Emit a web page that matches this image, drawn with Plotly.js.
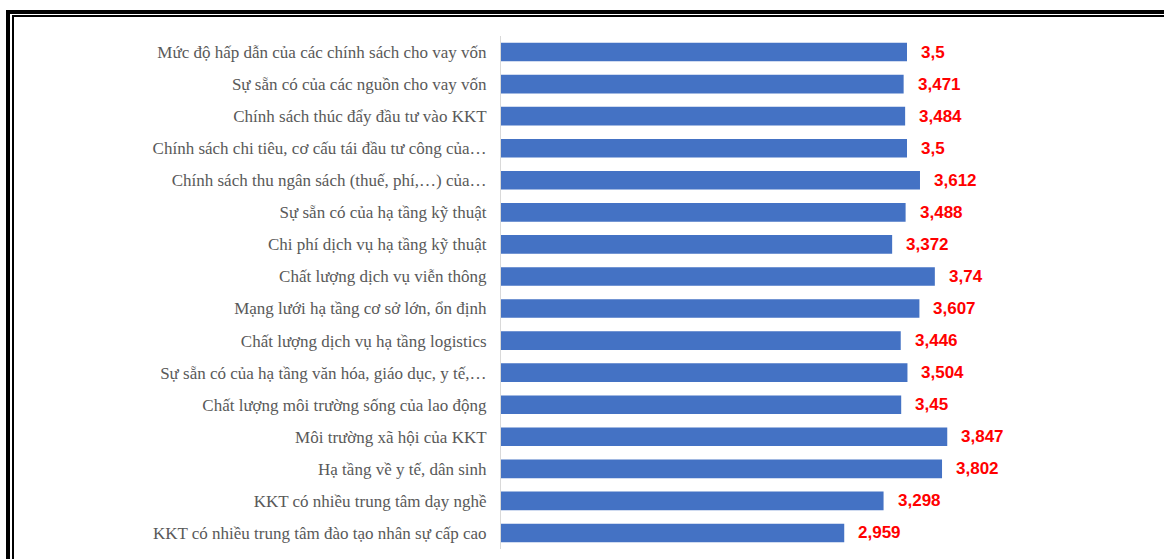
<!DOCTYPE html>
<html><head><meta charset="utf-8">
<script src="https://cdn.plot.ly/plotly-3.0.1.min.js"></script>
<style>
html,body{margin:0;padding:0;background:#fff;}
#wrap{position:relative;width:1164px;height:559px;overflow:hidden;}
#chart{position:absolute;left:0;top:0;width:1164px;height:559px;}
.fr{position:absolute;background:#000;pointer-events:none;}
</style></head>
<body>
<div id="wrap">
<div id="chart"></div>
<div class="fr" style="left:6px;top:10px;width:1158px;height:4px;"></div>
<div class="fr" style="left:6px;top:10px;width:4px;height:549px;"></div>
<div class="fr" style="left:12px;top:15px;width:1152px;height:2px;"></div>
<div class="fr" style="left:12px;top:15px;width:2px;height:544px;"></div>
</div>
<script>
const categories = [
  "Mức độ hấp dẫn của các chính sách cho vay vốn",
  "Sự sẵn có của các nguồn cho vay vốn",
  "Chính sách thúc đẩy đầu tư vào KKT",
  "Chính sách chi tiêu, cơ cấu tái đầu tư công của…",
  "Chính sách thu ngân sách (thuế, phí,…) của…",
  "Sự sẵn có của hạ tầng kỹ thuật",
  "Chi phí dịch vụ hạ tầng kỹ thuật",
  "Chất lượng dịch vụ viễn thông",
  "Mạng lưới hạ tầng cơ sở lớn, ổn định",
  "Chất lượng dịch vụ hạ tầng logistics",
  "Sự sẵn có của hạ tầng văn hóa, giáo dục, y tế,…",
  "Chất lượng môi trường sống của lao động",
  "Môi trường xã hội của KKT",
  "Hạ tầng về y tế, dân sinh",
  "KKT có nhiều trung tâm dạy nghề",
  "KKT có nhiều trung tâm đào tạo nhân sự cấp cao"
];
const values = [3.5, 3.471, 3.484, 3.5, 3.612, 3.488, 3.372, 3.74, 3.607, 3.446, 3.504, 3.45, 3.847, 3.802, 3.298, 2.959];
const valueLabels = values.map(v => String(v).replace('.', ','));

const trace = {
  type: 'bar',
  orientation: 'h',
  x: values,
  y: categories,
  marker: {color: '#4472C4'},
  width: 0.58,
  hoverinfo: 'none'
};

const annotations = values.map((v, i) => ({
  x: v, y: categories[i], xref: 'x', yref: 'y',
  text: valueLabels[i], showarrow: false,
  xanchor: 'left', yanchor: 'middle', xshift: 12,
  font: {family: 'Liberation Sans, Arial, sans-serif', size: 17, color: '#FF0000', weight: 'bold'}
}));

const layout = {
  width: 1164, height: 559,
  margin: {l: 501, r: 83, t: 36, b: 10, pad: 0},
  paper_bgcolor: '#ffffff', plot_bgcolor: '#ffffff',
  showlegend: false,
  xaxis: {range: [0, 5], visible: false, fixedrange: true},
  yaxis: {
    autorange: 'reversed', type: 'category',
    showline: true, linecolor: '#d9d9d9', linewidth: 1,
    showgrid: false, zeroline: false,
    ticks: 'outside', ticklen: 10, tickcolor: 'rgba(0,0,0,0)',
    tickfont: {family: 'Liberation Serif, Times New Roman, serif', size: 17, color: '#595959'}
  },
  annotations: annotations
};

Plotly.newPlot('chart', [trace], layout, {displayModeBar: false, staticPlot: true});
</script>
</body></html>
